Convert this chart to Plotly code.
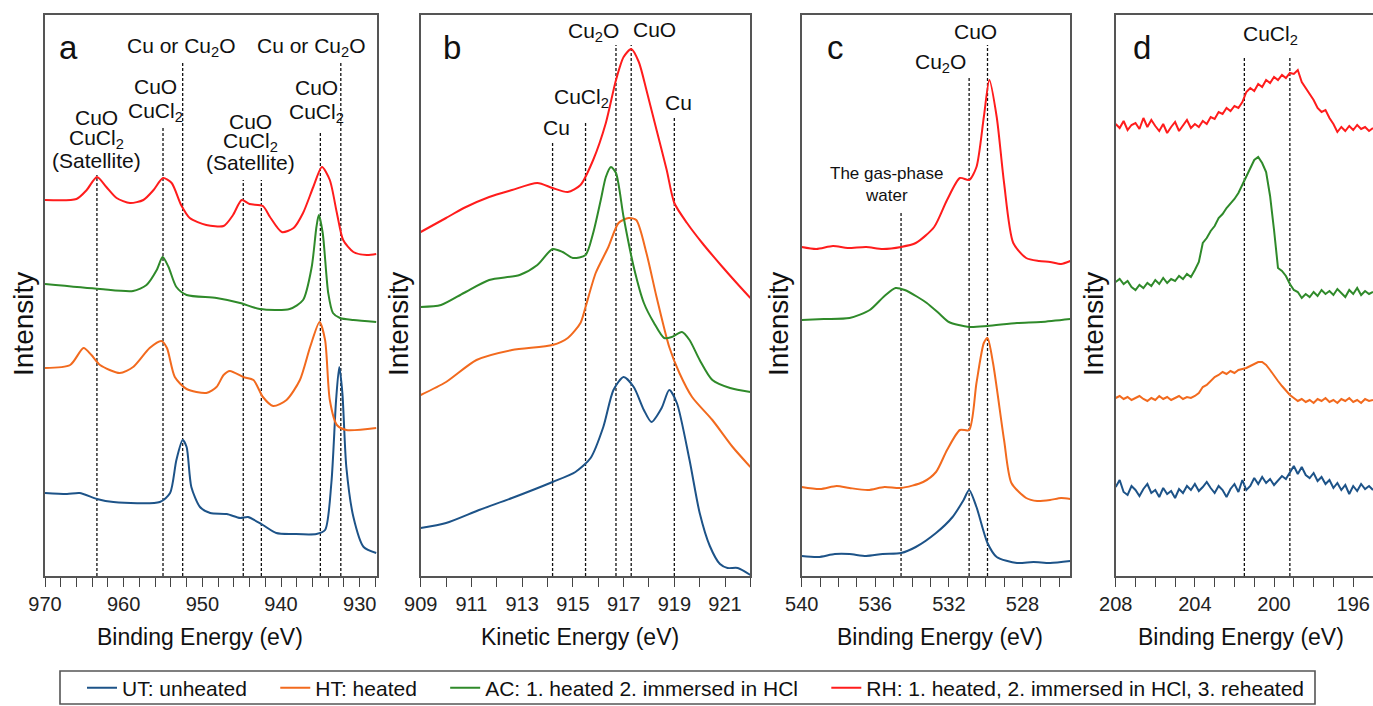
import numpy as np
import plotly.graph_objects as go

FONT = "Liberation Sans, Arial, Helvetica, sans-serif"
W, H = 1373, 706

COLORS = {"UT": "#1d5388", "HT": "#f26a1e", "AC": "#2f8a2a", "RH": "#ff1c1c"}
PAD = "\u00a0" * 4
NAMES = {
    "UT": "UT: unheated" + PAD,
    "HT": "HT: heated" + PAD,
    "AC": "AC: 1. heated 2. immersed in HCl" + PAD,
    "RH": "RH: 1. heated, 2. immersed in HCl, 3. reheated",
}

# ---------------- Panel a : Cu 2p (binding energy, eV) ----------------
a_rh_e = [970.0, 966.0, 964.7, 963.4, 962.2, 960.9, 959.2, 957.5, 956.2, 955.0, 953.9, 952.7, 951.6, 949.5, 947.3, 946.1,
          945.0, 944.0, 942.3, 941.4, 939.9, 938.4, 937.2, 935.9, 934.8, 933.8, 932.9, 932.1, 930.8, 929.1, 927.9]
a_rh_i = [376, 377, 386, 399, 389, 378, 373, 376, 386, 398, 393, 371, 358, 351, 350, 361,
          376, 372, 370, 359, 344, 348, 363, 389, 409, 396, 363, 336, 324, 321, 322]
a_ac_e = [970.0, 963.0, 958.8, 957.1, 955.8, 955.05, 954.3, 953.3, 952.0, 948.2, 945.2, 942.7, 938.9, 937.2, 936.1,
          935.5, 935.2, 934.7, 934.0, 933.4, 932.5, 930.8, 927.9]
a_ac_i = [292, 287, 285, 291, 306, 319, 309, 289, 281, 278, 273, 267, 267, 276, 309,
          349, 361, 343, 283, 263, 258, 256, 254]
a_ht_e = [970.0, 966.8, 965.1, 964.1, 963.0, 960.5, 958.8, 956.7, 955.2, 954.5, 953.5, 952.0, 949.5, 948.2, 947.3,
          946.5, 944.8, 943.5, 942.3, 941.0, 939.3, 937.6, 936.3, 935.1, 934.4, 933.8, 932.9, 931.7, 927.9]
a_ht_i = [208, 211, 228, 221, 211, 203, 209, 228, 235, 228, 199, 187, 183, 189, 201,
          205, 199, 196, 179, 170, 176, 196, 229, 254, 236, 176, 151, 146, 148]
a_ut_e = [970.0, 967.2, 965.6, 963.4, 961.3, 955.4, 954.1, 953.3, 952.5, 952.0, 951.4, 950.3, 949.0, 946.9, 945.2,
          944.2, 942.3, 940.6, 938.5, 935.5, 934.4, 933.6, 933.0, 932.6, 932.2, 931.7, 930.8, 929.5, 927.9]
a_ut_i = [83, 82, 83, 77, 74, 74, 83, 116, 136, 129, 89, 69, 63, 62, 58,
          59, 51, 43, 42, 42, 46, 93, 176, 209, 183, 109, 59, 29, 23]

# ---------------- Panel b : Cu LMM (kinetic energy, eV) ----------------
b_rh_e = [909.0, 910.0, 910.7, 911.7, 912.6, 913.6, 914.2, 914.8, 915.3, 915.8, 916.3, 916.7, 917.0, 917.3, 917.6,
          917.9, 918.3, 918.7, 919.0, 919.5, 920.1, 920.9, 921.6, 922.0]
b_rh_i = [344, 358, 368, 379, 386, 393, 388, 384, 391, 416, 453, 496, 519, 527, 514,
          486, 446, 406, 373, 353, 333, 309, 289, 278]
b_ac_e = [909.0, 909.8, 910.7, 911.7, 912.9, 913.6, 914.2, 914.6, 915.0, 915.5, 915.8, 916.1, 916.3, 916.5, 916.7,
          917.0, 917.4, 917.8, 918.2, 918.6, 918.9, 919.3, 919.6, 920.0, 920.5, 921.2, 922.0]
b_ac_i = [269, 271, 283, 296, 301, 311, 327, 324, 318, 321, 343, 376, 399, 409, 403,
          359, 309, 273, 253, 238, 239, 244, 236, 216, 196, 188, 184]
b_ht_e = [909.0, 910.0, 911.2, 912.6, 914.2, 914.8, 915.3, 915.5, 915.9, 916.4, 916.8, 917.2, 917.5, 917.9, 918.3,
          918.8, 919.2, 919.7, 920.5, 921.3, 922.0]
b_ht_i = [181, 194, 216, 226, 231, 238, 253, 269, 303, 329, 353, 358, 356, 323, 279,
          229, 203, 179, 156, 129, 109]
b_ut_e = [909.0, 910.0, 911.3, 912.6, 914.2, 915.1, 915.7, 916.2, 916.6, 917.0, 917.4, 917.8, 918.1, 918.5, 918.8,
          919.1, 919.6, 920.0, 920.4, 920.8, 921.1, 921.5, 922.0]
b_ut_i = [48, 53, 66, 78, 94, 104, 118, 149, 186, 199, 189, 166, 154, 168, 186,
          173, 116, 63, 30, 12, 8, 8, 1]

# ---------------- Panel c : O 1s (binding energy, eV) ----------------
c_rh_e = [540.0, 539.2, 538.3, 537.5, 536.5, 535.6, 534.6, 533.8, 532.8, 532.1, 531.4, 530.9, 530.5, 530.1, 529.8,
          529.4, 529.0, 528.5, 527.8, 527.1, 526.5, 525.9, 525.4]
c_rh_i = [329, 327, 330, 328, 329, 327, 329, 333, 349, 376, 398, 396, 409, 459, 496,
          459, 393, 333, 318, 315, 314, 312, 315]
c_ac_e = [540.0, 538.8, 537.4, 536.3, 535.5, 534.9, 534.4, 533.7, 533.2, 532.5, 532.0, 530.9, 529.9, 528.3, 527.0,
          525.4]
c_ac_i = [256, 257, 258, 266, 280, 288, 286, 279, 273, 262, 254, 249, 250, 253, 254, 257]
c_ht_e = [540.0, 539.0, 538.1, 537.4, 536.4, 535.5, 534.6, 533.4, 532.7, 532.1, 531.4, 530.9, 530.5, 530.1, 529.9,
          529.6, 529.0, 528.6, 527.8, 527.2, 526.5, 525.9, 525.4]
c_ht_i = [89, 87, 90, 88, 86, 89, 88, 94, 104, 126, 146, 146, 193, 233, 238,
          213, 136, 93, 78, 75, 76, 78, 77]
c_ut_e = [540.0, 539.1, 538.2, 537.4, 536.5, 535.6, 534.6, 533.8, 532.7, 531.8, 531.2, 530.9, 530.5, 529.9, 529.4,
          528.3, 527.4, 526.5, 525.4]
c_ut_i = [20, 19, 22, 22, 20, 22, 23, 29, 43, 59, 76, 86, 69, 33, 19, 13, 14, 13, 15]

# ---------------- Panel d : Cl 2p (binding energy, eV), 0.2 eV sampling ----------------
d_e = list(np.round(np.linspace(208.0, 195.0, 66), 1))
d_rh_i = [452, 448, 455, 446, 451, 453, 447, 458, 449, 456, 450, 445, 452, 443, 449, 454, 445, 451, 456, 448,
          452, 449, 455, 452, 459, 457, 464, 462, 468, 465, 470, 468, 474, 484, 488, 485, 492, 489, 496, 493,
          499, 496, 501, 498, 503, 502, 506, 494, 488, 481, 476, 468, 464, 466, 458, 452, 444, 449, 445, 450,
          446, 451, 447, 449, 445, 448]
d_ac_i = [294, 297, 292, 295, 289, 286, 291, 288, 293, 290, 296, 292, 298, 293, 297, 295, 300, 297, 302, 299,
          306, 314, 333, 338, 345, 350, 358, 362, 368, 372, 377, 383, 391, 400, 408, 416, 419, 413, 404, 380,
          346, 308, 305, 300, 292, 286, 284, 278, 282, 279, 284, 280, 286, 282, 285, 281, 287, 283, 279, 286,
          282, 288, 281, 285, 282, 284]
d_ht_i = [178, 180, 177, 179, 176, 178, 180, 177, 175, 178, 176, 180, 177, 179, 176, 178, 180, 177, 179, 178,
          180, 183, 189, 191, 195, 199, 201, 204, 202, 205, 203, 206, 207, 208, 210, 212, 214, 214, 211, 206,
          200, 195, 190, 185, 181, 178, 175, 177, 174, 176, 173, 177, 175, 178, 174, 176, 173, 177, 175, 178,
          174, 176, 173, 177, 175, 176]
d_ut_i = [89, 96, 84, 81, 90, 86, 80, 87, 92, 83, 86, 79, 88, 82, 85, 78, 87, 83, 90, 86,
          92, 85, 89, 94, 88, 83, 90, 86, 79, 87, 92, 84, 96, 86, 90, 98, 92, 99, 93, 97,
          91, 95, 100, 97, 104, 110, 102, 109, 101, 98, 103, 95, 99, 92, 96, 88, 93, 86, 91, 82,
          90, 85, 92, 87, 90, 86]

# reference lines: (energy, top intensity)
a_refs = [(963.4, 401), (955.0, 449), (952.5, 513), (944.8, 396), (942.5, 396), (935.0, 443), (932.4, 513)]
b_refs = [(914.2, 433), (915.5, 454), (916.7, 531), (917.3, 531), (919.0, 458)]
c_refs = [(534.6, 364), (530.9, 498), (529.9, 531)]
d_refs = [(201.5, 520), (199.2, 520)]

# labels: (text, energy, intensity, size)
a_labels = [("Cu or Cu<sub>2</sub>O", 952.6, 529, 21), ("Cu or Cu<sub>2</sub>O", 936.1, 529, 21),
            ("CuO", 955.9, 489, 21), ("CuCl<sub>2</sub>", 955.9, 464, 21),
            ("CuO", 963.4, 458, 21), ("CuCl<sub>2</sub>", 963.4, 437, 21), ("(Satellite)", 963.4, 416, 21),
            ("CuO", 943.9, 454, 21), ("CuCl<sub>2</sub>", 943.9, 434, 21), ("(Satellite)", 943.9, 414, 21),
            ("CuO", 935.5, 488, 21), ("CuCl<sub>2</sub>", 935.5, 463, 21)]
b_labels = [("Cu", 914.35, 448, 21), ("CuCl<sub>2</sub>", 915.34, 478, 21), ("Cu<sub>2</sub>O", 915.83, 544, 21),
            ("CuO", 918.2, 546, 21), ("Cu", 919.17, 473, 21)]
c_labels = [("CuO", 530.54, 544, 21), ("Cu<sub>2</sub>O", 532.43, 513, 21),
            ("The gas-phase", 535.38, 403, 17), ("water", 535.38, 381, 17)]
d_labels = [("CuCl<sub>2</sub>", 200.19, 541, 21)]

panel_letters = [("a", 68), ("b", 452), ("c", 836), ("d", 1142)]

# ---------------- layout geometry (pixels) ----------------
PLOT_TOP, PLOT_BOT = 15, 576
x_domains_px = [(45, 377), (420.7, 750.4), (801.7, 1070.3), (1115.7, 1373)]
x_ranges = [[970, 927.8], [909, 922.0], [540, 525.4], [208, 195]]
major_ticks = [[970, 960, 950, 940, 930], [909, 911, 913, 915, 917, 919, 921], [540, 536, 532, 528], [208, 204, 200, 196]]
minor_dt = [2, 1, 1, 1]
x_titles = ["Binding Energy (eV)", "Kinetic Energy (eV)", "Binding Energy (eV)", "Binding Energy (eV)"]
x_title_cx = [199.5, 580, 939.5, 1240.5]
y_title_cx = [23, 398, 778, 1093]

panels = [
    [("UT", a_ut_e, a_ut_i), ("HT", a_ht_e, a_ht_i), ("AC", a_ac_e, a_ac_i), ("RH", a_rh_e, a_rh_i)],
    [("UT", b_ut_e, b_ut_i), ("HT", b_ht_e, b_ht_i), ("AC", b_ac_e, b_ac_i), ("RH", b_rh_e, b_rh_i)],
    [("UT", c_ut_e, c_ut_i), ("HT", c_ht_e, c_ht_i), ("AC", c_ac_e, c_ac_i), ("RH", c_rh_e, c_rh_i)],
    [("UT", d_e, d_ut_i), ("HT", d_e, d_ht_i), ("AC", d_e, d_ac_i), ("RH", d_e, d_rh_i)],
]
refs = [a_refs, b_refs, c_refs, d_refs]
labels = [a_labels, b_labels, c_labels, d_labels]

fig = go.Figure()
shapes, annotations = [], []
layout_axes = {}
ydom = [(H - PLOT_BOT) / H, (H - PLOT_TOP) / H]

for p in range(4):
    xa = "x" if p == 0 else f"x{p+1}"
    ya = "y" if p == 0 else f"y{p+1}"
    smooth = p < 3
    for key, e, inten in panels[p]:
        fig.add_trace(go.Scatter(
            x=e, y=inten, mode="lines", xaxis=xa, yaxis=ya,
            name=NAMES[key], legendgroup=key, showlegend=(p == 0),
            line=dict(color=COLORS[key], width=2,
                      shape="spline" if smooth else "linear",
                      smoothing=0.7 if smooth else None),
            hoverinfo="skip",
        ))
    for (en, top) in refs[p]:
        shapes.append(dict(type="line", xref=xa, yref=ya, x0=en, x1=en, y0=0, y1=top,
                           line=dict(color="#111", width=1.3, dash="3px,2px"), layer="below"))
    for (txt, en, yv, sz) in labels[p]:
        annotations.append(dict(text=txt, x=en, y=yv, xref=xa, yref=ya, showarrow=False,
                                xanchor="center", yanchor="middle",
                                font=dict(family=FONT, size=sz, color="#111")))
    letter, lx = panel_letters[p]
    annotations.append(dict(text=letter, x=lx / W, y=(H - 47) / H, xref="paper", yref="paper",
                            showarrow=False, xanchor="center", yanchor="middle",
                            font=dict(family=FONT, size=33, color="#111")))
    annotations.append(dict(text=x_titles[p], x=x_title_cx[p] / W, y=(H - 637) / H,
                            xref="paper", yref="paper", showarrow=False,
                            xanchor="center", yanchor="middle",
                            font=dict(family=FONT, size=23, color="#111")))
    annotations.append(dict(text="Intensity", x=y_title_cx[p] / W, y=(H - 324) / H, textangle=-90,
                            xref="paper", yref="paper", showarrow=False,
                            xanchor="center", yanchor="middle",
                            font=dict(family=FONT, size=28, color="#111")))

    x0, x1 = x_domains_px[p]
    xname = "xaxis" if p == 0 else f"xaxis{p+1}"
    yname = "yaxis" if p == 0 else f"yaxis{p+1}"
    layout_axes[xname] = dict(
        domain=[x0 / W, min(x1 / W, 1.0)], range=x_ranges[p], anchor=ya,
        tickmode="array", tickvals=major_ticks[p], ticks="outside", ticklen=9, tickwidth=1.3,
        tickcolor="#444",
        minor=dict(dtick=minor_dt[p], tick0=major_ticks[p][0], ticks="outside", ticklen=9,
                   tickwidth=1.3, tickcolor="#444", showgrid=False),
        showline=True, linecolor="#555", linewidth=1.6, mirror=True,
        showgrid=False, zeroline=False,
        tickfont=dict(family=FONT, size=20, color="#222"),
    )
    layout_axes[yname] = dict(
        domain=ydom, range=[0, 561], anchor=xa, showticklabels=False, ticks="",
        showline=True, linecolor="#555", linewidth=1.6, mirror=True,
        showgrid=False, zeroline=False,
    )

# legend frame
shapes.append(dict(type="rect", xref="paper", yref="paper",
                   x0=60 / W, x1=1315 / W, y0=(H - 704) / H, y1=(H - 671) / H,
                   line=dict(color="#555", width=1.6), fillcolor="rgba(0,0,0,0)"))

fig.update_layout(
    width=W, height=H, margin=dict(l=0, r=0, t=0, b=0, autoexpand=False),
    paper_bgcolor="white", plot_bgcolor="white",
    font=dict(family=FONT, color="#111"),
    shapes=shapes, annotations=annotations,
    legend=dict(orientation="h", x=82 / W, xanchor="left", y=(H - 688) / H, yanchor="middle",
                borderwidth=0, bgcolor="rgba(0,0,0,0)",
                font=dict(family=FONT, size=21, color="#111"), traceorder="normal"),
    **layout_axes,
)

fig.write_html("out.html", config={"displayModeBar": False},
               post_script="document.body.style.margin='0';document.body.style.overflow='hidden';")
